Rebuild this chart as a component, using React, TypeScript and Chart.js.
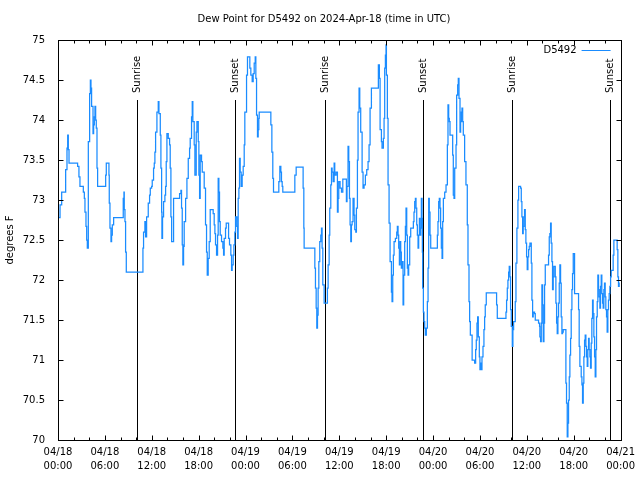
import React, { useEffect, useRef } from "react";
import { Chart, registerables } from "chart.js";

Chart.register(...registerables);

const chartTitle = "Dew Point for D5492 on 2024-Apr-18 (time in UTC)";
const seriesLabel = "D5492";
const yAxisTitle = "degrees F";
const dayLabels = ["04/18", "04/19", "04/20", "04/21"];
const sunriseHours = [10.15, 34.19, 58.1];
const sunsetHours = [22.68, 46.72, 70.63];

// [hours since 2024-04-18 00:00 UTC, dew point °F]
const readings: [number, number][] = [
  [0, 72.78], [0.26, 72.94], [0.47, 73.1], [0.98, 73.38], [1.15, 73.65], [1.24, 73.81], [1.32, 73.63],
  [1.41, 73.46], [2.51, 73.42], [2.68, 73.29], [2.81, 73.17], [3.24, 73.1], [3.37, 73.02], [3.45, 72.85],
  [3.58, 72.67], [3.67, 72.5], [3.75, 72.4], [3.88, 73.73], [4.05, 74.33], [4.14, 74.5], [4.22, 74.4],
  [4.3, 74.17], [4.48, 73.83], [4.56, 73.94], [4.65, 74.04], [4.73, 74.17], [4.82, 74.0], [4.9, 73.9],
  [4.99, 73.4], [5.07, 73.17], [6.1, 73.31], [6.18, 73.46], [6.52, 73.31], [6.56, 72.96], [6.65, 72.65],
  [6.78, 72.48], [6.86, 72.56], [6.95, 72.69], [7.12, 72.78], [8.35, 73.02], [8.44, 73.1], [8.48, 72.88],
  [8.57, 72.73], [8.65, 72.35], [8.74, 72.1], [10.87, 72.4], [10.95, 72.6], [11.12, 72.73], [11.21, 72.54],
  [11.34, 72.79], [11.55, 72.96], [11.72, 73.06], [11.81, 73.15], [11.98, 73.17], [12.06, 73.25],
  [12.23, 73.4], [12.32, 73.46], [12.4, 73.6], [12.49, 73.85], [12.66, 74.1], [12.83, 74.23], [12.92, 74.08],
  [13.09, 73.81], [13.17, 73.4], [13.26, 72.85], [13.3, 72.52], [13.38, 72.79], [13.51, 72.98],
  [13.68, 73.06], [13.77, 73.17], [13.85, 73.48], [13.94, 73.83], [14.11, 73.77], [14.28, 73.69],
  [14.36, 73.4], [14.45, 72.79], [14.54, 72.48], [14.79, 73.02], [15.56, 73.08], [15.73, 73.12],
  [15.81, 72.9], [15.9, 72.44], [15.98, 72.19], [16.07, 72.42], [16.15, 72.73], [16.33, 73.02],
  [16.5, 73.27], [16.67, 73.52], [16.84, 73.65], [16.92, 73.77], [17.09, 74.04], [17.18, 74.23],
  [17.26, 73.98], [17.43, 73.69], [17.52, 73.31], [17.69, 73.85], [17.78, 73.98], [17.95, 73.73],
  [18.03, 73.31], [18.12, 73.02], [18.2, 73.56], [18.37, 73.48], [18.46, 73.35], [18.71, 73.15],
  [18.88, 72.69], [19.01, 72.35], [19.1, 72.06], [19.22, 72.27], [19.35, 72.48], [19.48, 72.88],
  [19.86, 72.83], [19.99, 72.69], [20.08, 72.58], [20.16, 72.44], [20.29, 72.31], [20.42, 72.56],
  [20.5, 73.27], [20.59, 73.1], [20.67, 72.73], [20.76, 72.56], [20.93, 72.48], [21.1, 72.4],
  [21.19, 72.31], [21.27, 72.52], [21.44, 72.65], [21.53, 72.71], [21.83, 72.52], [21.95, 72.44],
  [22.12, 72.31], [22.21, 72.12], [22.29, 72.19], [22.42, 72.31], [22.51, 72.44], [22.63, 72.6],
  [22.72, 72.79], [22.89, 72.67], [22.98, 72.52], [23.06, 73.02], [23.15, 73.15], [23.23, 73.52],
  [23.32, 73.35], [23.44, 73.17], [23.57, 73.31], [23.7, 73.42], [23.83, 73.69], [23.91, 74.1],
  [24.13, 74.56], [24.25, 74.79], [24.55, 74.65], [24.68, 74.56], [24.85, 74.48], [24.98, 74.58],
  [25.11, 74.71], [25.24, 74.79], [25.32, 74.52], [25.41, 74.06], [25.53, 73.79], [25.62, 73.88],
  [25.7, 74.02], [25.75, 74.1], [27.24, 73.94], [27.37, 73.6], [27.49, 73.27], [27.58, 73.1],
  [28.26, 73.23], [28.39, 73.42], [28.52, 73.35], [28.6, 73.23], [28.69, 73.17], [28.77, 73.1],
  [30.31, 73.31], [30.48, 73.41], [31.37, 73.15], [31.46, 72.65], [31.5, 72.4], [32.87, 72.15],
  [32.95, 71.9], [33.04, 71.65], [33.12, 71.4], [33.21, 71.56], [33.29, 71.9], [33.38, 72.23],
  [33.5, 72.48], [33.63, 72.56], [33.72, 72.65], [33.8, 72.4], [33.89, 71.94], [34.06, 71.71],
  [34.48, 71.9], [34.57, 72.19], [34.7, 72.56], [34.78, 72.9], [34.91, 73.19], [35.0, 73.4],
  [35.08, 73.35], [35.21, 73.23], [35.34, 73.46], [35.42, 73.31], [35.59, 73.35], [35.76, 72.85],
  [35.85, 73.02], [35.93, 73.23], [36.1, 73.15], [36.28, 73.1], [36.45, 73.26], [36.91, 72.98],
  [36.99, 73.17], [37.12, 73.67], [37.21, 73.48], [37.3, 73.02], [37.38, 72.69], [37.47, 72.48],
  [37.55, 72.69], [37.64, 72.73], [37.76, 73.02], [37.89, 72.81], [37.98, 72.63], [38.11, 72.6],
  [38.19, 72.9], [38.32, 73.5], [38.4, 74.1], [38.53, 74.4], [38.62, 74.15], [38.74, 73.85],
  [38.92, 73.35], [39.04, 73.15], [39.17, 73.19], [39.34, 73.31], [39.51, 73.38], [39.68, 73.48],
  [39.81, 73.69], [39.94, 74.15], [40.11, 74.4], [41.0, 74.69], [41.13, 74.52], [41.22, 73.88],
  [41.39, 73.73], [41.47, 73.65], [41.64, 73.77], [41.73, 74.02], [41.81, 74.65], [41.9, 74.81],
  [41.98, 74.94], [42.03, 74.56], [42.15, 74.02], [42.24, 73.19], [42.37, 72.71], [42.5, 72.23],
  [42.67, 71.85], [42.75, 71.73], [42.84, 72.06], [42.92, 72.31], [43.01, 72.48], [43.18, 72.52],
  [43.35, 72.6], [43.43, 72.67], [43.52, 72.56], [43.6, 72.4], [43.69, 72.19], [43.77, 72.48],
  [43.86, 72.35], [43.94, 72.15], [44.07, 72.23], [44.16, 71.69], [44.24, 72.06], [44.37, 72.48],
  [44.46, 72.67], [44.54, 72.9], [44.63, 72.56], [44.71, 72.15], [44.8, 72.06], [44.88, 72.19],
  [45.01, 72.54], [45.14, 72.65], [45.48, 72.73], [45.56, 72.85], [45.65, 72.98], [45.74, 73.02],
  [45.82, 72.9], [45.91, 72.69], [45.99, 72.56], [46.08, 72.4], [46.16, 72.56], [46.25, 72.77],
  [46.33, 72.56], [46.42, 72.65], [46.5, 73.02], [46.59, 72.77], [46.63, 72.35], [46.67, 71.9],
  [46.76, 71.6], [46.84, 71.48], [46.93, 71.4], [47.01, 71.31], [47.14, 71.4], [47.27, 71.73],
  [47.36, 72.15], [47.44, 73.02], [47.52, 72.85], [47.61, 72.56], [47.7, 72.4], [48.55, 72.56],
  [48.63, 72.73], [48.72, 72.98], [48.8, 73.02], [48.89, 72.9], [48.97, 72.65], [49.06, 72.4],
  [49.15, 72.27], [49.23, 72.73], [49.32, 73.02], [49.49, 73.1], [49.66, 73.19], [49.83, 73.69],
  [49.91, 74.19], [50.0, 74.02], [50.08, 73.98], [50.17, 73.81], [50.51, 73.56], [50.59, 73.06],
  [50.68, 73.02], [50.77, 73.4], [50.94, 73.69], [51.02, 74.31], [51.15, 74.44], [51.23, 74.52],
  [51.32, 74.27], [51.45, 73.85], [51.53, 73.98], [51.62, 74.1], [51.7, 74.15], [51.79, 73.98],
  [51.87, 73.81], [52.04, 73.48], [52.21, 73.19], [52.38, 72.69], [52.47, 72.19], [52.6, 71.73],
  [52.68, 71.48], [52.77, 71.31], [53.0, 71.0], [53.32, 70.96], [53.45, 71.13], [53.53, 71.25],
  [53.62, 71.46], [53.7, 71.54], [53.79, 71.29], [53.92, 71.04], [54.0, 70.88], [54.09, 70.96],
  [54.17, 70.88], [54.26, 71.04], [54.39, 71.17], [54.51, 71.38], [54.6, 71.54], [54.68, 71.69],
  [54.81, 71.84], [56.13, 71.69], [56.22, 71.52], [57.33, 71.6], [57.41, 71.75], [57.5, 71.9],
  [57.58, 72.0], [57.67, 72.1], [57.75, 72.17], [57.84, 72.04], [57.92, 71.63], [58.01, 71.42],
  [58.14, 71.17], [58.22, 71.38], [58.31, 71.48], [58.52, 71.73], [58.61, 72.21], [58.73, 72.65],
  [58.86, 73.0], [58.95, 73.17], [59.2, 73.15], [59.29, 72.98], [59.37, 72.79], [59.46, 72.58],
  [59.54, 72.67], [59.63, 72.79], [59.71, 72.88], [59.8, 72.63], [59.88, 72.46], [59.97, 72.29],
  [60.05, 72.13], [60.14, 72.29], [60.23, 72.38], [60.31, 72.42], [60.4, 72.46], [60.57, 72.21],
  [60.65, 71.75], [60.74, 71.54], [60.82, 71.6], [60.99, 71.58], [61.08, 71.5], [61.5, 71.46],
  [61.63, 71.42], [61.67, 71.29], [61.76, 71.23], [61.85, 71.46], [61.93, 71.94], [62.02, 71.69],
  [62.1, 71.23], [62.19, 71.46], [62.27, 71.94], [62.36, 72.19], [62.78, 72.31], [62.87, 72.54],
  [62.95, 72.58], [63.04, 72.71], [63.12, 72.46], [63.21, 72.23], [63.29, 71.88], [63.38, 72.04],
  [63.46, 72.17], [63.64, 72.04], [63.72, 71.71], [63.81, 71.46], [63.89, 71.33], [63.98, 71.54],
  [64.06, 71.71], [64.15, 71.96], [64.23, 72.19], [64.32, 71.96], [64.4, 71.54], [64.49, 71.33],
  [64.57, 71.35], [64.66, 71.38], [65.0, 70.71], [65.08, 70.46], [65.17, 70.04], [65.26, 70.21],
  [65.34, 70.5], [65.43, 70.79], [65.51, 71.06], [65.6, 71.27], [65.68, 71.63], [65.77, 71.88],
  [65.85, 72.08], [65.94, 72.33], [66.11, 71.83], [66.62, 71.63], [66.7, 71.17], [66.79, 70.92],
  [66.96, 70.79], [67.05, 70.69], [67.13, 70.46], [67.22, 70.71], [67.3, 71.04], [67.39, 71.25],
  [67.47, 71.31], [67.56, 71.17], [67.64, 71.04], [67.73, 70.92], [67.81, 71.13], [67.9, 71.27],
  [67.98, 71.13], [68.07, 71.04], [68.15, 70.9], [68.24, 71.21], [68.32, 71.52], [68.41, 71.75],
  [68.49, 71.58], [68.58, 71.29], [68.67, 71.04], [68.75, 70.79], [68.84, 71.13], [68.92, 71.54],
  [69.01, 71.73], [69.09, 72.06], [69.18, 71.88], [69.26, 71.79], [69.35, 71.65], [69.43, 71.92],
  [69.52, 72.06], [69.6, 71.83], [69.69, 71.71], [69.77, 71.65], [69.86, 71.88], [69.94, 71.96],
  [70.03, 71.79], [70.11, 71.63], [70.2, 71.54], [70.28, 71.35], [70.37, 71.63], [70.45, 71.75],
  [70.54, 71.83], [70.63, 71.92], [70.72, 72.04], [70.8, 72.12], [71.05, 72.31], [71.14, 72.5],
  [71.56, 72.38], [71.65, 72.04], [71.73, 71.92], [71.82, 71.96], [71.9, 71.96],
];

const LINE_COLOR = "#1a8cff";
const FONT_FAMILY = '"DejaVu Sans"';
const FONT = `10px ${FONT_FAMILY}`;

const decorPlugin = {
  id: "gnuplotDecor",
  beforeDatasetsDraw(chart: any) {
    const { ctx, chartArea: a, scales } = chart;
    const xs = scales.x;
    ctx.save();
    ctx.strokeStyle = "#000";
    ctx.lineWidth = 1;
    ctx.font = FONT;
    ctx.fillStyle = "#000";
    const events: [number, string][] = [
      ...sunriseHours.map((h) => [h, "Sunrise"] as [number, string]),
      ...sunsetHours.map((h) => [h, "Sunset"] as [number, string]),
    ];
    for (const [h, label] of events) {
      const x = Math.round(xs.getPixelForValue(h)) + 0.5;
      ctx.beginPath();
      ctx.moveTo(x, a.top + 60);
      ctx.lineTo(x, a.bottom);
      ctx.stroke();
      ctx.save();
      ctx.translate(x, a.top + 53);
      ctx.rotate(-Math.PI / 2);
      ctx.textAlign = "left";
      ctx.textBaseline = "middle";
      ctx.fillText(label, 0, 0);
      ctx.restore();
    }
    ctx.restore();
  },
  afterDatasetsDraw(chart: any) {
    const { ctx, chartArea: a, scales } = chart;
    const xs = scales.x;
    const ys = scales.y;
    ctx.save();
    ctx.strokeStyle = "#000";
    ctx.lineWidth = 1;
    const L = Math.round(a.left) + 0.5;
    const R = Math.round(a.right) + 0.5;
    const T = Math.round(a.top) + 0.5;
    const B = Math.round(a.bottom) + 0.5;
    ctx.strokeRect(L, T, R - L, B - T);
    ctx.beginPath();
    for (let h = 0; h <= 72; h += 2) {
      const x = Math.round(xs.getPixelForValue(h)) + 0.5;
      const len = h % 6 === 0 ? 5 : 3;
      ctx.moveTo(x, B);
      ctx.lineTo(x, B - len);
      ctx.moveTo(x, T);
      ctx.lineTo(x, T + len);
    }
    for (let v = 70; v <= 75.001; v += 0.5) {
      const y = Math.round(ys.getPixelForValue(v)) + 0.5;
      ctx.moveTo(L, y);
      ctx.lineTo(L + 5, y);
      ctx.moveTo(R, y);
      ctx.lineTo(R - 5, y);
    }
    ctx.stroke();

    // title
    ctx.font = FONT;
    ctx.fillStyle = "#000";
    ctx.textAlign = "center";
    ctx.textBaseline = "middle";
    ctx.fillText(chartTitle, chart.width / 2 + 4, 19);

    // legend
    ctx.textAlign = "right";
    ctx.fillText(seriesLabel, a.right - 44, a.top + 10);
    ctx.strokeStyle = LINE_COLOR;
    ctx.beginPath();
    ctx.moveTo(a.right - 39, a.top + 10.5);
    ctx.lineTo(a.right - 10, a.top + 10.5);
    ctx.stroke();
    ctx.restore();
  },
};

export default function App() {
  const canvasRef = useRef<HTMLCanvasElement | null>(null);

  useEffect(() => {
    if (!canvasRef.current) return;
    const chart = new Chart(canvasRef.current, {
      type: "line",
      data: {
        datasets: [
          {
            label: seriesLabel,
            data: readings.map(([h, v]) => ({ x: h, y: v })),
            borderColor: LINE_COLOR,
            backgroundColor: LINE_COLOR,
            borderWidth: 1.25,
            pointRadius: 0,
            stepped: "before",
            fill: false,
          },
        ],
      },
      options: {
        animation: false,
        responsive: false,
        devicePixelRatio: 1,
        layout: { padding: { top: 40, right: 19, bottom: 0, left: 0 } },
        plugins: {
          legend: { display: false },
          title: { display: false },
          tooltip: { enabled: false },
        },
        events: [],
        scales: {
          x: {
            type: "linear",
            min: 0,
            max: 72,
            grid: { display: false, drawTicks: false },
            border: { display: false },
            afterFit: (scale: any) => {
              scale.height = 40;
            },
            ticks: {
              stepSize: 6,
              autoSkip: false,
              maxRotation: 0,
              padding: 5,
              color: "#000",
              font: { family: "DejaVu Sans", size: 10, lineHeight: 1.4 },
              callback: (value: any) => {
                const v = Number(value);
                const day = dayLabels[Math.floor(v / 24)];
                const hr = String(v % 24).padStart(2, "0");
                return [day, `${hr}:00`];
              },
            },
          },
          y: {
            type: "linear",
            min: 70,
            max: 75,
            grid: { display: false, drawTicks: false },
            border: { display: false },
            afterFit: (scale: any) => {
              scale.width = 58;
            },
            title: {
              display: true,
              text: yAxisTitle,
              color: "#000",
              font: { family: "DejaVu Sans", size: 10 },
              padding: { top: 4, bottom: 0 },
            },
            ticks: {
              stepSize: 0.5,
              padding: 13,
              color: "#000",
              font: { family: "DejaVu Sans", size: 10 },
              callback: (value: any) => String(Number(value)),
            },
          },
        },
      },
      plugins: [decorPlugin],
    });
    return () => chart.destroy();
  }, []);

  return (
    <div style={{ position: "absolute", left: 0, top: 0, width: 640, height: 480, background: "#fff" }}>
      <canvas ref={canvasRef} width={640} height={480} style={{ display: "block" }} />
    </div>
  );
}
